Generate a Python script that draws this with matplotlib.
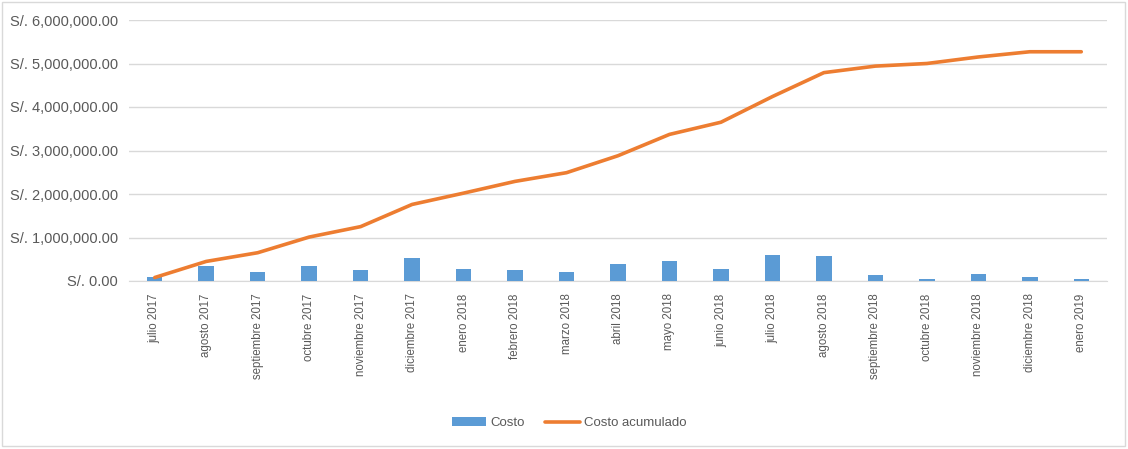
import matplotlib
matplotlib.use("Agg")
import matplotlib.pyplot as plt
from matplotlib.patches import Rectangle
from matplotlib.ticker import FuncFormatter

categories = ["julio 2017", "agosto 2017", "septiembre 2017", "octubre 2017",
              "noviembre 2017", "diciembre 2017", "enero 2018", "febrero 2018",
              "marzo 2018", "abril 2018", "mayo 2018", "junio 2018", "julio 2018",
              "agosto 2018", "septiembre 2018", "octubre 2018", "noviembre 2018",
              "diciembre 2018", "enero 2019"]
costo = [90000, 340000, 210000, 340000, 250000, 520000, 280000, 250000, 210000,
         400000, 460000, 280000, 590000, 580000, 130000, 40000, 160000, 100000, 40000]
costo_acumulado = [80000, 450000, 650000, 1010000, 1250000, 1760000, 2020000,
                   2290000, 2490000, 2880000, 3370000, 3650000, 4240000, 4790000,
                   4940000, 5000000, 5150000, 5270000, 5270000]
y_ticks = [0, 1000000, 2000000, 3000000, 4000000, 5000000, 6000000]

plt.rcParams['font.family'] = ['Liberation Sans', 'DejaVu Sans']

fig = plt.figure(figsize=(11.28, 4.49), dpi=100)
fig.patches.append(Rectangle((0.002, 0.006), 0.995, 0.99, transform=fig.transFigure,
                             fill=False, edgecolor='#D9D9D9', linewidth=1))
ax = fig.add_axes([129/1128, (449-281)/449, 978/1128, 261/449])

x = list(range(len(categories)))
bars = ax.bar(x, costo, width=0.3, color='#5B9BD5', label='Costo', zorder=2)
line, = ax.plot(x, costo_acumulado, color='#ED7D31', linewidth=2.6, label='Costo acumulado',
                zorder=3, solid_capstyle='round')

ax.set_xlim(-0.5, len(categories) - 0.5)
ax.set_ylim(0, 6000000)
ax.set_yticks(y_ticks)
ax.yaxis.set_major_formatter(FuncFormatter(lambda v, p: "S/. {:,.2f}".format(v)))
ax.set_xticks(x)
ax.set_xticklabels(categories, rotation=90, fontsize=8.3, color='#595959')
ax.tick_params(axis='y', labelsize=10.5, labelcolor='#595959', length=0, pad=8)
ax.tick_params(axis='x', length=0, pad=9)
ax.grid(axis='y', color='#D9D9D9', linewidth=1, zorder=0)
for s in ['top', 'right', 'left']:
    ax.spines[s].set_visible(False)
ax.spines['bottom'].set_color('#D9D9D9')
ax.spines['bottom'].set_zorder(1)

fig.legend(handles=[bars, line], labels=['Costo', 'Costo acumulado'],
           loc='center', bbox_to_anchor=(569/1128, 1 - 423/449), ncol=2, frameon=False,
           fontsize=9.5, labelcolor='#595959', handlelength=2.6, columnspacing=1.6,
           handletextpad=0.3)

fig.savefig("out.png", dpi=100)
